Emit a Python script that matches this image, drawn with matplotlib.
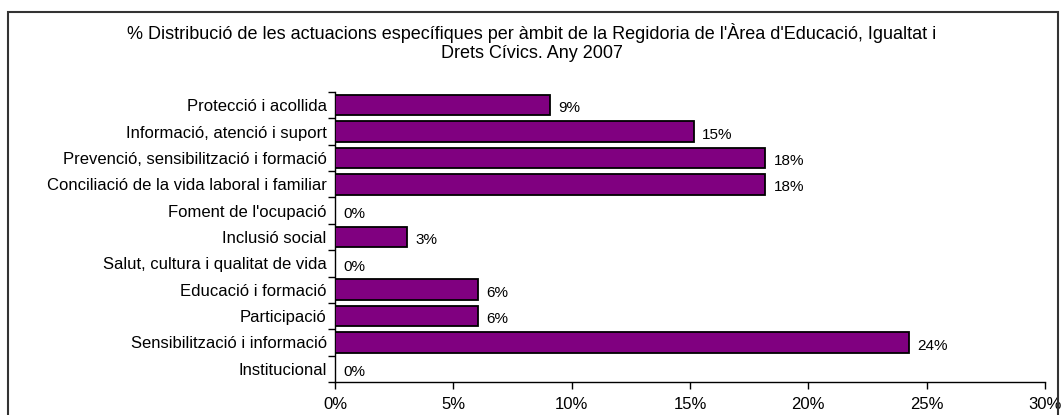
import matplotlib
matplotlib.use("Agg")
import matplotlib.pyplot as plt
from matplotlib.patches import Rectangle
import numpy as np

categories = [
    "Protecció i acollida",
    "Informació, atenció i suport",
    "Prevenció, sensibilització i formació",
    "Conciliació de la vida laboral i familiar",
    "Foment de l'ocupació",
    "Inclusió social",
    "Salut, cultura i qualitat de vida",
    "Educació i formació",
    "Participació",
    "Sensibilització i informació",
    "Institucional",
]
values = [9.09, 15.15, 18.18, 18.18, 0.0, 3.03, 0.0, 6.06, 6.06, 24.24, 0.0]
xticks = [0, 5, 10, 15, 20, 25, 30]
title = ("% Distribució de les actuacions específiques per àmbit de la Regidoria de l'Àrea d'Educació, Igualtat i\n"
         "Drets Cívics. Any 2007")

plt.rcParams["font.family"] = ["Liberation Sans", "DejaVu Sans"]

W, H = 1064, 415
fig = plt.figure(figsize=(W / 100, H / 100), dpi=100)
ax = fig.add_axes([335 / W, (H - 382) / H, 710 / W, 290 / H])

n = len(categories)
y = np.arange(n)
ax.barh(y, values, height=0.78, color="#800080", edgecolor="black", linewidth=1.3, zorder=3)

for yi, v in zip(y, values):
    ax.text(v + 0.35, yi + 0.12, f"{v:.0f}%", va="center", ha="left", fontsize=11)

ax.set_ylim(n - 0.5, -0.5)
ax.set_xlim(0, 30)
ax.set_yticks(y)
ax.set_yticklabels(categories, fontsize=12)
ax.tick_params(axis="y", length=0, pad=6)
ax.set_yticks(np.arange(-0.5, n, 1), minor=True)
ax.tick_params(axis="y", which="minor", length=5, direction="out", width=1)

ax.set_xticks(xticks)
ax.set_xticklabels([f"{t}%" for t in xticks], fontsize=12)
ax.tick_params(axis="x", length=5, direction="out", width=1, pad=6)

for side in ["top", "right"]:
    ax.spines[side].set_visible(False)
for side in ["left", "bottom"]:
    ax.spines[side].set_linewidth(1.0)

fig.text(532 / W, 1 - 42.5 / H, title, ha="center", va="center", fontsize=13, linespacing=1.2)

fig.patches.append(Rectangle((8 / W, -0.05), 1050 / W, 1.05 - 12 / H, transform=fig.transFigure,
                             fill=False, edgecolor="#333333", linewidth=1.5))

fig.savefig("out.png", dpi=100)
